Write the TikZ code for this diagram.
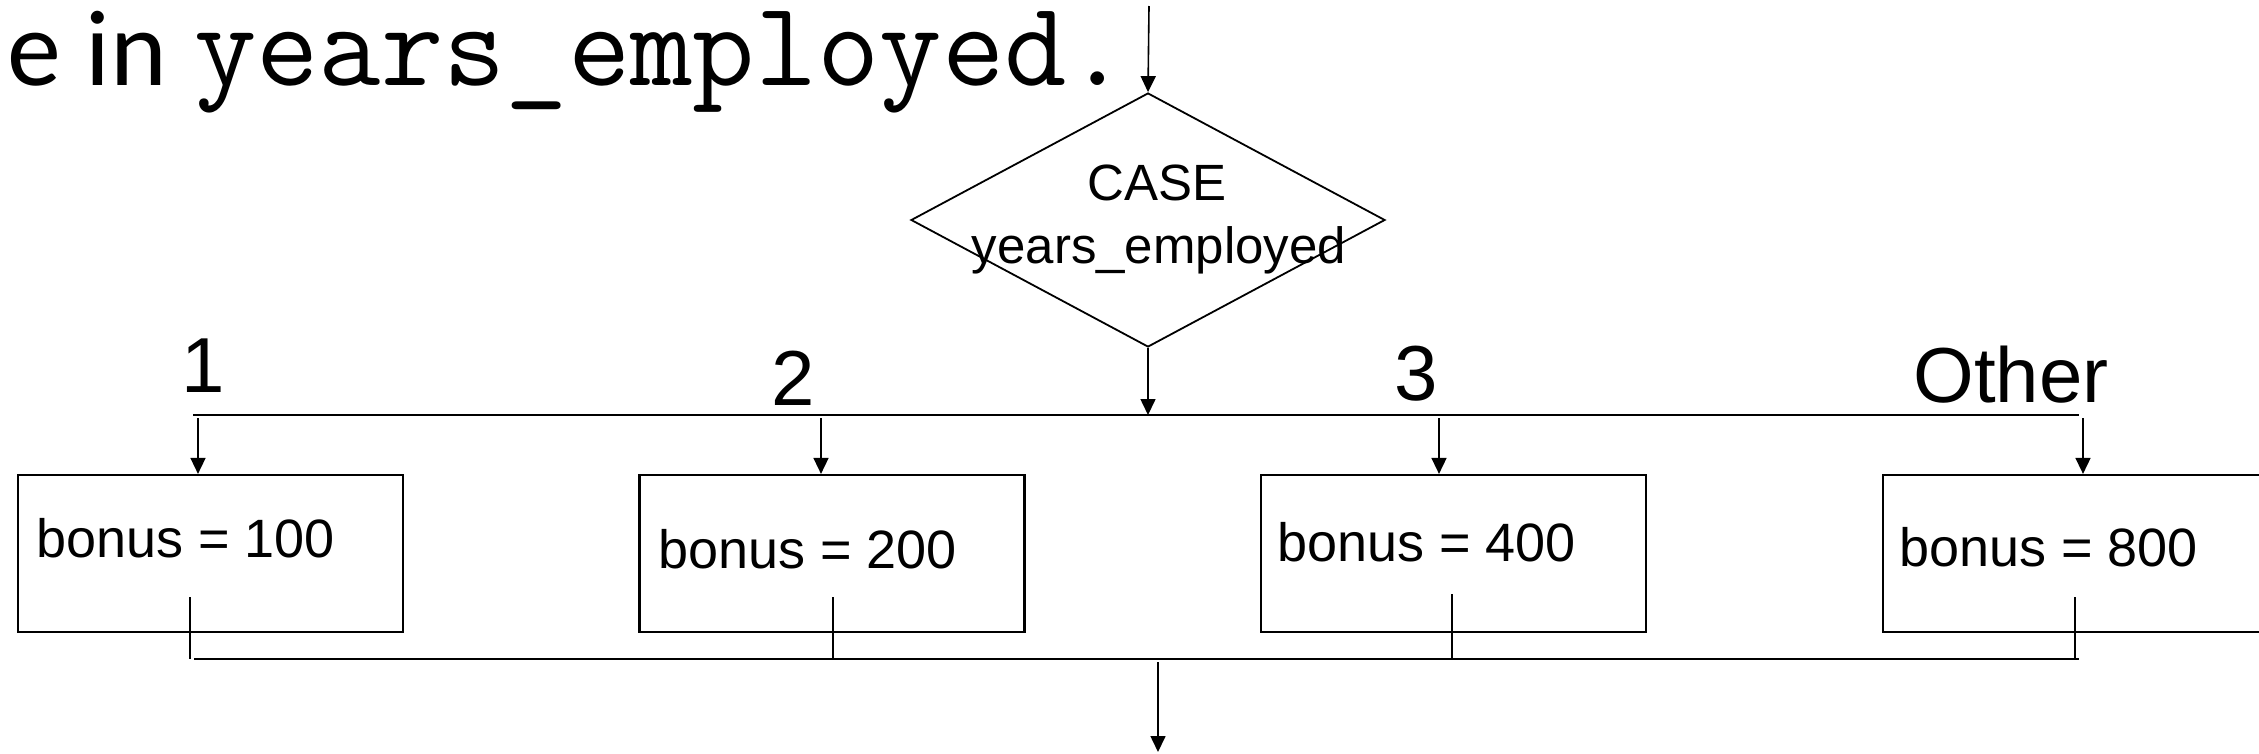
\documentclass[tikz,border=0pt]{standalone}
\usepackage{fontspec}
\newfontfamily\arialf{Liberation Sans}
\newfontfamily\calibf{Carlito}
\usetikzlibrary{shapes.geometric,arrows.meta}
\begin{document}
\begin{tikzpicture}[x=1pt,y=-1pt,
  flow/.style={line width=1.6pt,-{Triangle[width=15pt,length=16pt]}},
  bar/.style={line width=2.2pt},
  stub/.style={line width=1.4pt},
  actbox/.style={draw,line width=2.2pt,minimum width=385pt,minimum height=157pt,inner sep=0pt},
  boxtext/.style={anchor=base west,inner sep=0pt,font=\arialf\fontsize{54pt}{62pt}\selectfont},
  caselabel/.style={anchor=base,inner sep=0pt,font=\arialf\fontsize{78pt}{90pt}\selectfont},
  dectext/.style={anchor=base,inner sep=0pt,font=\arialf\fontsize{51pt}{60pt}\selectfont}]
\useasboundingbox (0,0) rectangle (2259,753);
\fill[white] (0,0) rectangle (2259,753);

% heading fragment
\node[anchor=base west,inner sep=0pt] (title) at (7,85)
  {\calibf\fontsize{108pt}{120pt}\selectfont e in\hspace{3pt} \ttfamily\fontsize{121pt}{130pt}\selectfont years\_employed.};

% decision
\node[diamond,draw,line width=1.8pt,minimum width=474pt,minimum height=254pt,inner sep=0pt] (dec) at (1148,220) {};
\node[dectext] (casekw) at (1157,200) {CASE};
\node[dectext] (casevar) at (1159,263) {years\_employed};

% case labels
\node[caselabel] (l1) at (203,392) {1};
\node[caselabel] (l2) at (793,405) {2};
\node[caselabel] (l3) at (1416,400) {3};
\node[caselabel] (l4) at (2011,402) {Other};

% action boxes
\node[actbox] (b1) at (210.5,553.5) {};
\node[actbox] (b2) at (832,553.5) {};
\node[actbox] (b3) at (1453.5,553.5) {};
\node[actbox] (b4) at (2075.5,553.5) {};
\node[boxtext] (t1) at (36,557) {bonus = 100};
\node[boxtext] (t2) at (658,568) {bonus = 200};
\node[boxtext] (t3) at (1277,561) {bonus = 400};
\node[boxtext] (t4) at (1899,566) {bonus = 800};

% entry and decision outlet
\coordinate (start) at (1149,6);
\draw[flow] (start) -- (dec.north);
\coordinate (barL) at (193,415);
\coordinate (barR) at (2079,415);
\draw[bar] (barL) -- (barR);
\draw[flow] (dec.south) -- (dec.south |- barL);

% branches into the boxes
\coordinate (s1) at (198,418);
\coordinate (s2) at (821,418);
\coordinate (s3) at (1439,418);
\coordinate (s4) at (2083,418);
\draw[flow] (s1) -- (s1 |- b1.north);
\draw[flow] (s2) -- (s2 |- b2.north);
\draw[flow] (s3) -- (s3 |- b3.north);
\draw[flow] (s4) -- (s4 |- b4.north);

% merge below the boxes
\coordinate (joinL) at (194,659);
\coordinate (joinR) at (2079,659);
\draw[bar] (joinL) -- (joinR);
\coordinate (m1) at (190,597);
\coordinate (m2) at (833,597);
\coordinate (m3) at (1452,594);
\coordinate (m4) at (2075,597);
\draw[stub] (m1) -- (m1 |- joinL);
\draw[stub] (m2) -- (m2 |- joinL);
\draw[stub] (m3) -- (m3 |- joinL);
\draw[stub] (m4) -- (m4 |- joinL);
\coordinate (jout) at (1158,662);
\coordinate (exit) at (1158,752);
\draw[flow] (jout) -- (exit);
\end{tikzpicture}
\end{document}
